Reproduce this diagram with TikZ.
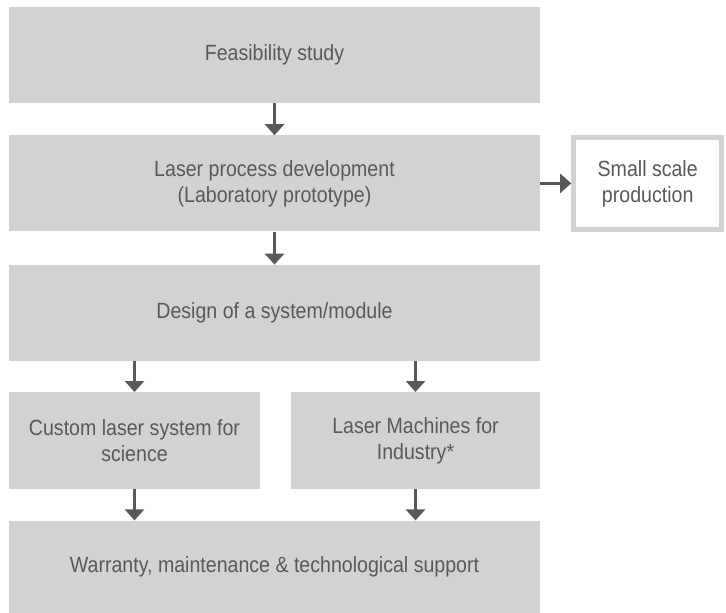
\documentclass[tikz,border=0pt]{standalone}
\usepackage{fontspec}
\setmainfont[FakeStretch=0.89]{Liberation Sans}
\usepackage{xcolor}
\definecolor{stagegray}{RGB}{209,210,212}
\definecolor{inkgray}{RGB}{88,89,91}
\usepackage{tikz}
\usetikzlibrary{arrows.meta, positioning}

\begin{document}
\begin{tikzpicture}[
  stage/.style={rectangle, fill=stagegray, inner sep=0pt, align=center,
                text=inkgray, font=\fontsize{22}{26}\selectfont},
  wide/.style={stage, minimum width=531pt, minimum height=96pt},
  half/.style={stage, minimum width=250pt, minimum height=97pt},
  side/.style={stage, fill=white, draw=stagegray, line width=5pt,
               minimum width=148pt, minimum height=92pt},
  arr/.style={-{Triangle[width=19pt, length=11pt]}, line width=2.7pt, inkgray}
]
\path[fill=white] (0,0) rectangle (726pt,-612pt);

% ---- Main column ----
\node[wide] (feas) at (274.5pt,-55pt) {Feasibility study};
\node[wide, below=32pt of feas] (procdev) {Laser process development\\(Laboratory prototype)};
\node[wide, below=33pt of procdev] (design) {Design of a system/module};

\draw[arr] (feas) -- (procdev);
\draw[arr] (procdev) -- (design);

% ---- Side branch ----
\node[side, right=31pt of procdev] (smallprod) {Small scale\\production};
\draw[arr] (procdev) -- (smallprod);

% ---- Two products ----
\node[half, minimum width=251pt, below right=31pt and 0pt of design.south west] (science) {Custom laser system for\\science};
\node[half, minimum width=249pt, below left=31pt and 0pt of design.south east] (industry) {Laser Machines for\\Industry*};

\draw[arr] (design.south -| science.north) -- (science.north);
\draw[arr] (design.south -| industry.north) -- (industry.north);

% ---- Support ----
\node[wide, minimum height=92pt, below right=31pt and 0pt of science.south west] (support) {Warranty, maintenance \& technological support};

\draw[arr] (science.south) -- (support.north -| science.south);
\draw[arr] (industry.south) -- (support.north -| industry.south);

\end{tikzpicture}
\end{document}
